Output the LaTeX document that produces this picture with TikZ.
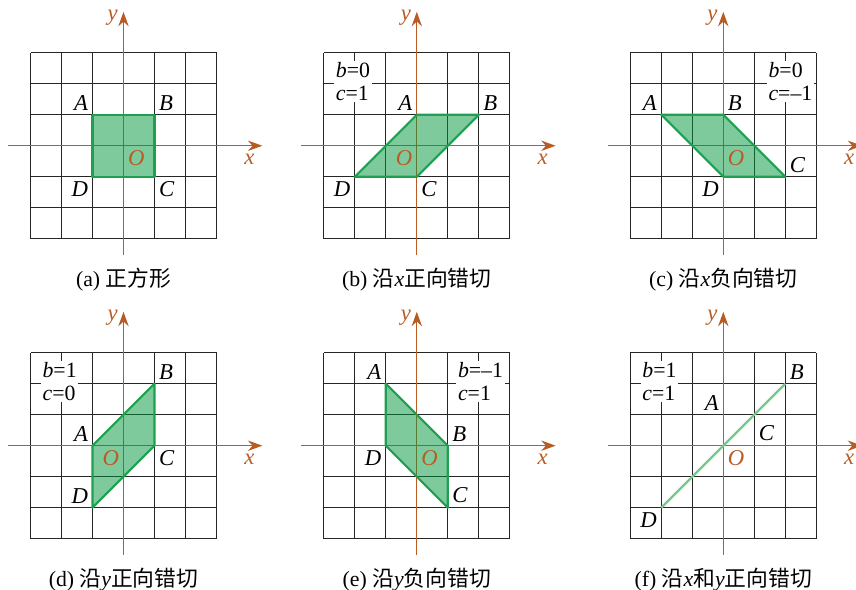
\documentclass[tikz,border=0pt]{standalone}
\usepackage{fontspec}
\setmainfont{Liberation Serif}
\newfontfamily\cjk{Noto Sans CJK SC}
\usepackage{xcolor}
\usetikzlibrary{arrows.meta}

\definecolor{axisbrown}{RGB}{184,92,36}
\definecolor{sheargreen}{RGB}{0,150,60}
\definecolor{edgegreen}{RGB}{30,160,80}
\definecolor{linegreen}{RGB}{115,200,140}

\tikzset{
  gridline/.style={black!85, line width=0.6pt},
  axisline/.style={axisbrown, line width=0.7pt, -{Stealth[length=2.8mm,width=2mm]}},
  shearfill/.style={fill=sheargreen, fill opacity=0.5, draw=edgegreen, draw opacity=1, line width=1.2pt, line join=round},
  vlabel/.style={font=\fontsize{12.5}{13}\selectfont\itshape, inner sep=2.3pt},
  olabel/.style={vlabel, text=axisbrown},
  parbox/.style={fill=white, inner sep=1pt, align=left, anchor=west, font=\fontsize{12}{12.5}\selectfont},
  subcap/.style={font=\fontsize{12}{14}\selectfont}
}

% luoi 6x6 va hai truc toa do
\newcommand{\shearaxes}[1]{%
  \foreach \i in {-3,...,3} {
    \draw[gridline] (\i,-3) -- (\i,3);
    \draw[gridline] (-3,\i) -- (3,\i);
  }
  \draw[axisline] (-3.72,0) -- (4.48,0);
  \draw[axisline] (0,-3.52) -- (0,4.32);
  \node[olabel] (#1x) at (4.06,-0.45) {x};
  \node[olabel] (#1y) at (-0.35,4.13) {y};
}

\begin{document}
\begin{tikzpicture}[x=0.6cm, y=0.6cm]
    \useasboundingbox (0,0) rectangle (27.613,19.032);

    % (a) hinh vuong
    \begin{scope}[shift={(3.984,14.33)}]
        \shearaxes{a}
        \draw[shearfill] (-1,1) -- (1,1) -- (1,-1) -- (-1,-1) -- cycle;
        \node[vlabel, above left] (aA) at (-1,1) {A};
        \node[vlabel, above right] (aB) at (1,1) {B};
        \node[vlabel, below right] (aC) at (1,-1) {C};
        \node[vlabel, below left] (aD) at (-1,-1) {D};
        \node[olabel, below right] (aO) at (0,0) {O};
        \node[subcap] (acap) at (0,-4.32) {(a) {\cjk 正方形}};
    \end{scope}

    % (b) b=0, c=1
    \begin{scope}[shift={(13.445,14.33)}]
        \shearaxes{b}
        \node[parbox] (bpar) at (-2.68,2.07) {\textit{b}=0\\\textit{c}=1};
        \draw[shearfill] (0,1) -- (2,1) -- (0,-1) -- (-2,-1) -- cycle;
        \node[vlabel, above left] (bA) at (0,1) {A};
        \node[vlabel, above right] (bB) at (2,1) {B};
        \node[vlabel, below right] (bC) at (0,-1) {C};
        \node[vlabel, below left] (bD) at (-2,-1) {D};
        \node[olabel, below left] (bO) at (0,0) {O};
        \node[subcap] (bcap) at (0,-4.32) {(b) {\cjk 沿}\textit{x}{\cjk 正向错切}};
    \end{scope}

    % (c) b=0, c=-1
    \begin{scope}[shift={(23.332,14.33)}]
        \shearaxes{c}
        \node[parbox] (cpar) at (1.39,2.07) {\textit{b}=0\\\textit{c}=–1};
        \draw[shearfill] (-2,1) -- (0,1) -- (2,-1) -- (0,-1) -- cycle;
        \node[vlabel, above left] (cA) at (-2,1) {A};
        \node[vlabel, above right] (cB) at (0,1) {B};
        \node[vlabel, above right] (cC) at (2,-1) {C};
        \node[vlabel, below left] (cD) at (0,-1) {D};
        \node[olabel, below right] (cO) at (0,0) {O};
        \node[subcap] (ccap) at (0,-4.32) {(c) {\cjk 沿}\textit{x}{\cjk 负向错切}};
    \end{scope}

    % (d) b=1, c=0
    \begin{scope}[shift={(3.984,4.655)}]
        \shearaxes{d}
        \node[parbox] (dpar) at (-2.68,2.07) {\textit{b}=1\\\textit{c}=0};
        \draw[shearfill] (-1,0) -- (1,2) -- (1,0) -- (-1,-2) -- cycle;
        \node[vlabel, above left] (dA) at (-1,0) {A};
        \node[vlabel, above right] (dB) at (1,2) {B};
        \node[vlabel, below right] (dC) at (1,0) {C};
        \node[vlabel, above left] (dD) at (-1,-2) {D};
        \node[olabel, below left] (dO) at (0,0) {O};
        \node[subcap] (dcap) at (0,-4.32) {(d) {\cjk 沿}\textit{y}{\cjk 正向错切}};
    \end{scope}

    % (e) b=-1, c=1
    \begin{scope}[shift={(13.445,4.655)}]
        \shearaxes{e}
        \node[parbox] (epar) at (1.26,2.07) {\textit{b}=–1\\\textit{c}=1};
        \draw[shearfill] (-1,2) -- (1,0) -- (1,-2) -- (-1,0) -- cycle;
        \node[vlabel, above left] (eA) at (-1,2) {A};
        \node[vlabel, above right] (eB) at (1,0) {B};
        \node[vlabel, above right] (eC) at (1,-2) {C};
        \node[vlabel, below left] (eD) at (-1,0) {D};
        \node[olabel, below right] (eO) at (0,0) {O};
        \node[subcap] (ecap) at (0,-4.32) {(e) {\cjk 沿}\textit{y}{\cjk 负向错切}};
    \end{scope}

    % (f) b=1, c=1
    \begin{scope}[shift={(23.332,4.655)}]
        \shearaxes{f}
        \node[parbox] (fpar) at (-2.68,2.07) {\textit{b}=1\\\textit{c}=1};
        \draw[linegreen, line width=1.3pt] (-2,-2) -- (2,2);
        \node[vlabel, above left] (fA) at (0,1) {A};
        \node[vlabel, above right] (fB) at (2,2) {B};
        \node[vlabel, above right] (fC) at (1,0) {C};
        \node[vlabel, below left] (fD) at (-2,-2) {D};
        \node[olabel, below right] (fO) at (0,0) {O};
        \node[subcap] (fcap) at (0,-4.32) {(f) {\cjk 沿}\textit{x}{\cjk 和}\textit{y}{\cjk 正向错切}};
    \end{scope}
\end{tikzpicture}
\end{document}
